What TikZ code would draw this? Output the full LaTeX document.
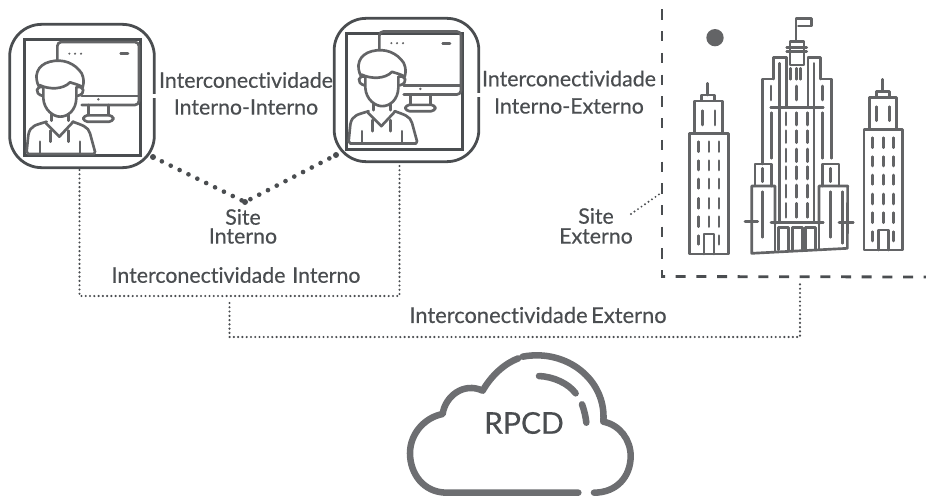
\documentclass[tikz,border=0pt]{standalone}
\usepackage{fontspec}
\setmainfont{Lato}[FakeBold=0.4,Ligatures=NoCommon]
\definecolor{ink}{HTML}{4A4D50}
\definecolor{icon}{HTML}{636466}
\definecolor{cloudc}{HTML}{6D6E71}
\tikzset{
  lab/.style={text=ink,font=\fontsize{16}{18}\selectfont,inner sep=0pt,align=center},
  frameb/.style={draw=ink,line width=2.1pt,rounded corners=24pt,minimum width=108.5pt,minimum height=107.5pt,inner sep=0pt},
  framei/.style={draw=ink,line width=2.2pt,minimum width=87.5pt,minimum height=87.5pt,inner sep=0pt},
  bigdot/.style={draw=ink,line width=3.5pt,line cap=round,dash pattern=on 0pt off 7.4pt},
  smalldot/.style={draw=ink,line width=1.8pt,line cap=round,dash pattern=on 0pt off 3.2pt},
  tinydot/.style={draw=ink,line width=1.6pt,line cap=round,dash pattern=on 0pt off 3.2pt},
  sitedash/.style={draw=ink,line width=2.1pt},
  ic/.style={draw=icon,line width=2pt,line cap=round,line join=round},
  zoomu/.style={x=0.25pt,y=-0.25pt},
  pics/worker/.style={code={
    \begin{scope}[zoomu]
      \draw[ic,rounded corners=3pt] (172,150)--(172,96)--(417,96)--(417,285)--(245,285);
      \draw[ic] (245,258)--(415,258);
      \fill[icon] (295,268) circle (4);
      \fill[icon] (208,131) circle (3.5) (225,131) circle (3.5) (243,131) circle (3.5);
      \draw[ic] (362,131)--(384,131);
      \draw[ic] (265,285)--(265,315) (325,285)--(325,315);
      \draw[ic,rounded corners=3pt] (250,316) rectangle (340,335);
      \draw[ic] (118,232) .. controls (100,200) and (110,165) .. (150,155) .. controls (190,145) and (225,160) .. (245,190) .. controls (252,205) and (252,218) .. (248,232);
      \draw[ic] (118,225) .. controls (150,240) and (190,238) .. (210,217) .. controls (225,222) and (240,225) .. (248,232);
      \draw[ic] (130,232)--(130,265) .. controls (132,300) and (160,320) .. (180,320) .. controls (205,320) and (228,300) .. (229,265)--(229,232);
      \draw[ic] (130,232) .. controls (110,225) and (100,250) .. (128,258);
      \draw[ic] (229,232) .. controls (250,225) and (262,250) .. (232,258);
      \draw[ic] (155,312)--(155,332) (205,312)--(205,332);
      \draw[ic] (138,340)--(178,380)--(220,335);
      \draw[ic] (152,362)--(152,395) (205,362)--(205,395);
      \draw[ic] (140,335) .. controls (110,345) and (90,345) .. (85,375) -- (80,425) -- (85,432) -- (282,432) -- (285,425) -- (270,370) .. controls (265,350) and (245,345) .. (218,335);
      \draw[ic] (120,395)--(120,432) (240,395)--(240,432);
    \end{scope}}}
}
\newcommand{\winv}[3]{\draw[ic] (#1,#2)--(#1,#3);}
\begin{document}
\begin{tikzpicture}[x=0.75pt,y=-0.75pt]
\useasboundingbox (0,0) rectangle (926,496);
% frames
\node[frameb] (boxL) at (82,96) {};
\node[framei] (innerL) at (82.5,97.5) {};
\node[frameb] (boxR) at (406.5,90) {};
\node[framei] (innerR) at (404.5,91.5) {};
\fill[white] (152,93.5) rectangle (158,98);
\fill[white] (476,92.5) rectangle (482,97);
\pic at (0,10) {worker};
\pic at (322,-0.5) {worker};
% dotted links
\coordinate (dA) at (153,157);
\coordinate (dB) at (245,202);
\coordinate (dC) at (336,155);
\path[bigdot] (dA)--(dB)--(dC);
\fill[ink] (dA) circle (3) (dB) circle (3) (dC) circle (3);
\coordinate (iA) at (79.5,170);
\coordinate (iB) at (79.5,296);
\coordinate (iC) at (399.5,296);
\coordinate (iD) at (399.5,164);
\path[smalldot] (iA)--(iB)--(iC)--(iD);
\coordinate (eA) at (229.5,303);
\coordinate (eB) at (229.5,337);
\coordinate (eC) at (800,337);
\coordinate (eD) at (800,283);
\path[smalldot] (eA)--(eB)--(eC)--(eD);
\coordinate (sA) at (631,214);
\coordinate (sB) at (661,193);
\path[tinydot] (sA)--(sB);
% site externo boundary
\coordinate (cT) at (662,9.4);
\coordinate (cC) at (662,277);
\coordinate (cR) at (926,277);
\path[sitedash,dash pattern=on 7.7pt off 8.6pt] (cT)--(cC);
\path[sitedash,dash pattern=on 7.5pt off 8pt,dash phase=4.5pt] (661,276.5)--(cR);
% labels
\node[lab] (t1) at (246,80) {Interconectividade};
\node[lab] (t2) at (246,107) {Interno-Interno};
\node[lab] (t3) at (569,78.5) {Interconectividade};
\node[lab] (t4) at (569,106) {Interno-Externo};
\node[lab] (t5) at (243,217) {Site};
\node[lab] (t6) at (243,236) {Interno};
\node[lab] (t7) at (236,275) {Interconectividade\hspace{1pt} Interno};
\node[lab,font=\fontsize{16.4}{18}\selectfont] (t8) at (538,315) {Interconectividade\hspace{-1.5pt} Externo};
\node[lab] (t9) at (596,216) {Site};
\node[lab] (t10) at (596,236) {Externo};
% city
\begin{scope}[xshift=495pt,x=0.25pt,y=-0.25pt]
\fill[icon] (165,113) circle (26);
% left tower
\draw[ic] (88,400) rectangle (205,762);
\draw[ic] (103,400)--(103,303)--(187,303)--(187,400);
\draw[ic] (125,300)--(125,285)--(163,285)--(163,300);
\draw[ic] (143,250)--(143,285);
\draw[ic] (132,762)--(132,702)--(162,702)--(162,762);
\winv{127}{332}{375}\winv{165}{332}{375}
\foreach \c in {116,147,177}{\foreach \a/\b in {425/455,482/510,537/565,595/625,650/680}{\draw[ic] (\c,\a)--(\c,\b);}}
\winv{116}{707}{733}\winv{177}{707}{733}
% right tower
\draw[ic] (612,388) rectangle (728,750);
\draw[ic] (628,388)--(628,292)--(710,292)--(710,388);
\draw[ic] (650,288)--(650,274)--(688,274)--(688,288);
\draw[ic] (667,238)--(667,274);
\draw[ic] (655,750)--(655,690)--(685,690)--(685,750);
\winv{650}{320}{362}\winv{688}{320}{362}
\foreach \c in {638,670,700}{\foreach \a/\b in {413/443,470/498,525/553,582/612,638/668}{\draw[ic] (\c,\a)--(\c,\b);}}
\winv{638}{695}{723}\winv{700}{695}{723}
% centre tower
\draw[ic] (345,672)--(345,558)--(275,558)--(275,760)--(562,745)--(563,558)--(477,558)--(477,672);
\draw[ic] (345,672)--(345,752) (477,672)--(477,746);
\draw[ic] (285,558)--(285,492)--(335,492)--(335,558);
\draw[ic] (487,558)--(487,492)--(537,492)--(537,558);
\draw[ic] (307,492)--(307,237)--(340,237);
\draw[ic] (514,475)--(514,237)--(482,237);
\draw[ic] (340,237)--(340,172)--(378,172);
\draw[ic] (445,172)--(482,172)--(482,237);
\draw[ic] (358,190)--(358,665) (462,190)--(462,665);
\draw[ic] (380,172)--(380,318) (444,172)--(444,318);
\draw[ic] (332,322)--(490,322) (333,667)--(490,667);
\draw[ic] (255,665)--(293,665) (537,667)--(580,667);
\draw[ic] (390,195)--(390,125)--(432,125)--(432,195)--cycle;
\draw[ic] (380,142)--(440,142) (380,155)--(440,155);
\draw[ic] (408,122)--(408,55)--(455,55)--(455,78)--(415,78);
\foreach \c in {378,410,442}{\foreach \a/\b in {338/375,392/428,447/485,500/537,555/592,610/652}{\draw[ic] (\c,\a)--(\c,\b);}}
\winv{392}{205}{238}\winv{410}{205}{238}\winv{422}{205}{238}
\winv{410}{258}{300}\winv{333}{258}{300}\winv{488}{258}{300}
\winv{335}{338}{475}\winv{488}{338}{475}
\winv{308}{505}{545}\winv{512}{505}{545}
\winv{308}{575}{712}\winv{512}{575}{712}\winv{547}{575}{730}
\draw[ic] (356,750)--(356,683)--(385,683)--(385,750);
\draw[ic] (398,749)--(398,683)--(427,683)--(427,748);
\draw[ic] (436,748)--(436,683)--(467,683)--(467,746);
\end{scope}
% cloud
\begin{scope}[xshift=292.5pt,yshift=-255pt,x=0.25pt,y=-0.25pt]
\draw[draw=cloudc,line width=4.9pt,line cap=round,line join=round]
 (565,458)--(170,458) .. controls (100,458) and (60,400) .. (60,340) .. controls (60,280) and (105,232) .. (158,222)
 .. controls (165,170) and (220,125) .. (278,152) .. controls (305,105) and (345,70) .. (385,55);
\draw[draw=cloudc,line width=4.9pt,line cap=round,line join=round]
 (398,50) .. controls (530,25) and (650,120) .. (640,245) .. controls (690,255) and (722,300) .. (722,348) .. controls (722,410) and (680,458) .. (612,458);
\draw[draw=cloudc,line width=4.9pt,line cap=round] (447,108) .. controls (490,110) and (535,130) .. (557,160);
\draw[draw=cloudc,line width=4.9pt,line cap=round] (576,193) .. controls (583,212) and (587,230) .. (589,248);
\end{scope}
\node[text=ink,font=\fontsize{22.5}{24}\selectfont,inner sep=0pt] (rpcd) at (524,423) {RPCD};
\end{tikzpicture}
\end{document}
